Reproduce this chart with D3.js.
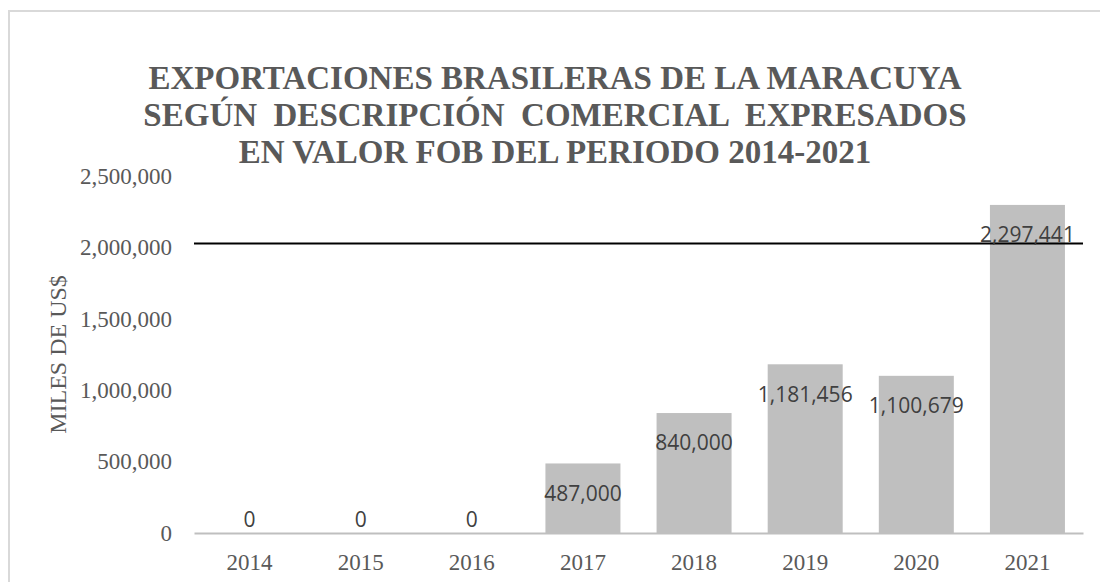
<!DOCTYPE html>
<html>
<head>
<meta charset="utf-8">
<script src="https://cdn.jsdelivr.net/npm/d3@7"></script>
<style>
    body { margin: 0; background: #fff; }
    svg { display: block; }
</style>
</head>
<body>
<div id="chart"></div>
<script>

const years = ["2014", "2015", "2016", "2017", "2018", "2019", "2020", "2021"];
const values = [0, 0, 0, 487000, 840000, 1181456, 1100679, 2297441];
const yTicks = [0, 500000, 1000000, 1500000, 2000000, 2500000];
const titleLines = [
    "EXPORTACIONES BRASILERAS DE LA MARACUYA",
    "SEGÚN  DESCRIPCIÓN  COMERCIAL  EXPRESADOS",
    "EN VALOR FOB DEL PERIODO 2014-2021"
];
const yTitle = "MILES DE US$";
// black line drawn over the plot
const refLine = [2028000];

const width = 1100, height = 582;
const margin = { top: 176, right: 17, bottom: 49, left: 194 };

const svg = d3.select("#chart").append("svg")
    .attr("width", width)
    .attr("height", height);

// chart area border
svg.append("rect")
    .attr("x", 9).attr("y", 11)
    .attr("width", width + 20).attr("height", height + 20)
    .attr("fill", "none")
    .attr("stroke", "#d9d9d9")
    .attr("stroke-width", 2);

const x = d3.scaleBand()
    .domain(years)
    .range([margin.left, width - margin.right])
    .paddingInner(0.325)
    .paddingOuter(0.1625);

const y = d3.scaleLinear()
    .domain([0, 2500000])
    .range([height - margin.bottom, margin.top]);

const serif = "'Liberation Serif', 'Times New Roman', serif";

// title
svg.append("text")
    .attr("text-anchor", "middle")
    .attr("font-family", serif)
    .attr("font-weight", "bold")
    .attr("font-size", 33)
    .attr("fill", "#595959")
    .selectAll("tspan").data(titleLines).enter()
    .append("tspan")
    .attr("x", 555)
    .attr("y", (d, i) => 89 + i * 37)
    .style("white-space", "pre")
    .text(d => d);

// y axis labels
const yAxis = d3.axisLeft(y)
    .tickValues(yTicks)
    .tickSize(0)
    .tickPadding(22)
    .tickFormat(d3.format(","));

svg.append("g")
    .attr("transform", "translate(" + margin.left + ",0)")
    .call(yAxis)
    .call(g => g.select(".domain").remove())
    .call(g => g.selectAll("text")
        .attr("font-family", serif)
        .attr("font-size", 23)
        .attr("fill", "#595959"));

svg.append("text")
    .attr("transform", "translate(66," + y(1250000) + ") rotate(-90)")
    .attr("text-anchor", "middle")
    .attr("font-family", serif)
    .attr("font-size", 24)
    .attr("fill", "#595959")
    .text(yTitle);

// bars
svg.append("g").selectAll("rect").data(values).enter()
    .append("rect")
    .attr("x", (d, i) => x(years[i]))
    .attr("width", x.bandwidth())
    .attr("y", d => y(d))
    .attr("height", d => y(0) - y(d))
    .attr("fill", "#bfbfbf");

// baseline
const xAxis = d3.axisBottom(x).tickSize(0).tickPadding(21);
svg.append("g")
    .attr("transform", "translate(0," + y(0) + ")")
    .call(xAxis)
    .call(g => g.select(".domain")
        .attr("stroke", "#bfbfbf")
        .attr("stroke-width", 2))
    .call(g => g.selectAll("text")
        .attr("font-family", serif)
        .attr("font-size", 23)
        .attr("fill", "#595959"));

// reference line
svg.append("g").selectAll("line").data(refLine).enter()
    .append("line")
    .attr("x1", margin.left)
    .attr("x2", width - margin.right)
    .attr("y1", d => y(d))
    .attr("y2", d => y(d))
    .attr("stroke", "#000")
    .attr("stroke-width", 2);

// data labels
svg.append("g").selectAll("text").data(values).enter()
    .append("text")
    .attr("x", (d, i) => x(years[i]) + x.bandwidth() / 2)
    .attr("y", d => d > 0 ? y(d) + 30 : y(d) - 13)
    .attr("dy", "0.35em")
    .attr("text-anchor", "middle")
    .attr("font-family", "'Open Sans', 'Noto Sans', sans-serif")
    .attr("font-size", 21)
    .attr("fill", "#404040")
    .text(d => d3.format(",")(d));

</script>
</body>
</html>
